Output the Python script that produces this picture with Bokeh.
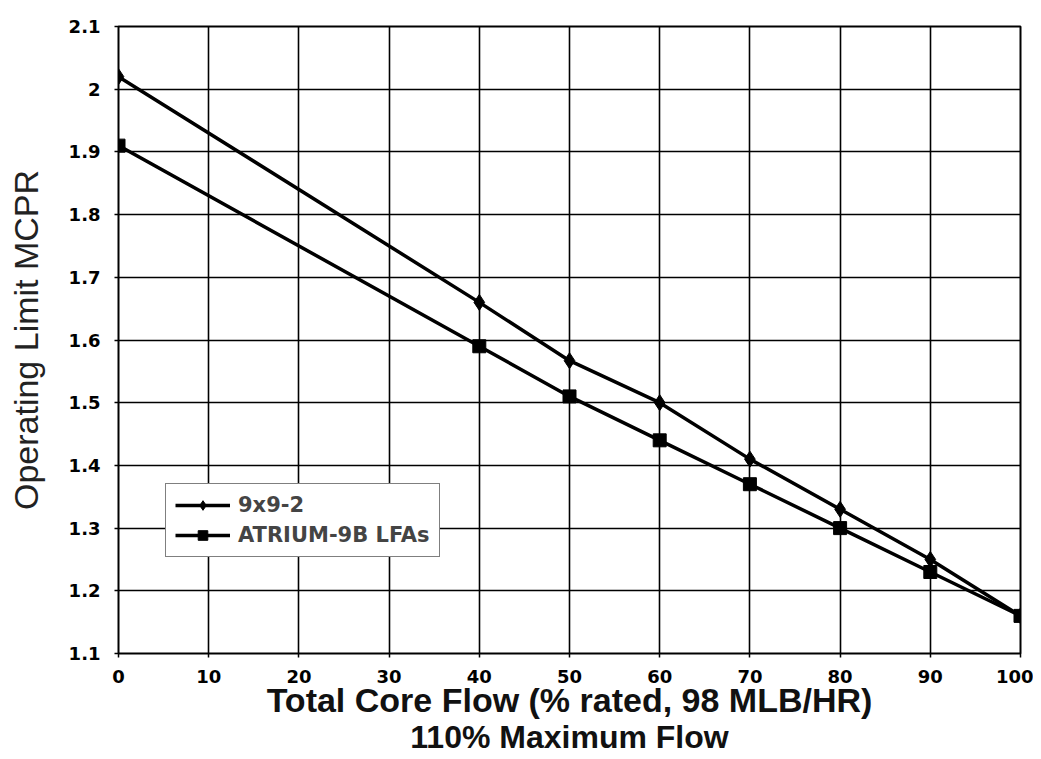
from bokeh.plotting import figure
from bokeh.models import Range1d, FixedTicker, Legend, LegendItem, Title
from bokeh.embed import file_html
from bokeh.resources import INLINE

flow = [0, 40, 50, 60, 70, 80, 90, 100]
mcpr_9x9 = [2.02, 1.66, 1.567, 1.50, 1.41, 1.33, 1.25, 1.16]
mcpr_atrium = [1.91, 1.59, 1.51, 1.44, 1.37, 1.30, 1.23, 1.16]
x_ticks = [0, 10, 20, 30, 40, 50, 60, 70, 80, 90, 100]
y_ticks = [1.1, 1.2, 1.3, 1.4, 1.5, 1.6, 1.7, 1.8, 1.9, 2.0, 2.1]
y_tick_labels = {1.1: "1.1", 1.2: "1.2", 1.3: "1.3", 1.4: "1.4", 1.5: "1.5", 1.6: "1.6",
                 1.7: "1.7", 1.8: "1.8", 1.9: "1.9", 2.0: "2", 2.1: "2.1"}
x_title = "Total Core Flow (% rated, 98 MLB/HR)"
x_subtitle = "110% Maximum Flow"
y_title = "Operating Limit MCPR"

FONT = "Liberation Sans"
TICKFONT = "DejaVu Sans"

p = figure(width=1033, height=759, output_backend="svg", toolbar_location=None,
           x_range=Range1d(0, 100), y_range=Range1d(1.1, 2.1),
           min_border_left=118, min_border_right=13, min_border_top=26, min_border_bottom=106)

p.background_fill_color = "white"
p.border_fill_color = "white"
p.outline_line_color = "black"
p.outline_line_width = 2

for g in (p.xgrid, p.ygrid):
    g.grid_line_color = "black"
    g.grid_line_width = 1.6

p.xaxis.ticker = FixedTicker(ticks=x_ticks)
p.yaxis.ticker = FixedTicker(ticks=y_ticks)
p.yaxis.major_label_overrides = y_tick_labels

for ax in (p.xaxis, p.yaxis):
    ax.axis_line_color = None
    ax.major_tick_line_color = "black"
    ax.major_tick_line_width = 1.5
    ax.major_tick_out = 4
    ax.major_tick_in = 0
    ax.minor_tick_line_color = None
    ax.major_label_text_font = TICKFONT
    ax.major_label_text_font_style = "bold"
    ax.major_label_text_font_size = "18px"
    ax.major_label_text_color = "black"
    ax.axis_label_text_font = FONT
    ax.axis_label_text_font_style = "normal"

p.xaxis.major_label_standoff = 12
p.yaxis.major_label_standoff = 14

p.yaxis.axis_label = y_title
p.yaxis.axis_label_text_font_size = "34px"
p.yaxis.axis_label_text_color = "#222222"
p.yaxis.axis_label_standoff = 21

t1 = Title(text=x_title, align="center", text_font=FONT,
           text_font_size="34px", text_font_style="bold", text_color="#111111",
           offset=-13, standoff=-13)
t2 = Title(text=x_subtitle, align="center", text_font=FONT,
           text_font_size="32px", text_font_style="bold", text_color="#111111",
           offset=-9, standoff=9)
p.add_layout(t1, "below")
p.add_layout(t2, "below")

l1 = p.line(flow, mcpr_9x9, line_color="black", line_width=3.5)
m1 = p.scatter(flow, mcpr_9x9, marker="diamond", size=16, color="black")
l2 = p.line(flow, mcpr_atrium, line_color="black", line_width=3.5)
m2 = p.scatter(flow, mcpr_atrium, marker="square", size=13, color="black")

legend = Legend(items=[LegendItem(label="9x9-2", renderers=[l1, m1]),
                       LegendItem(label="ATRIUM-9B LFAs", renderers=[l2, m2])],
                location=(47, 96), orientation="vertical")
legend.border_line_color = "black"
legend.border_line_width = 1.5
legend.background_fill_alpha = 1
legend.label_text_font = TICKFONT
legend.label_text_font_style = "bold"
legend.label_text_font_size = "21px"
legend.glyph_width = 55
legend.glyph_height = 24
legend.label_height = 24
legend.label_standoff = 8
legend.spacing = 6
legend.padding = 9
legend.margin = 0
p.add_layout(legend, "center")

open("out.html", "w").write(file_html(p, INLINE))
